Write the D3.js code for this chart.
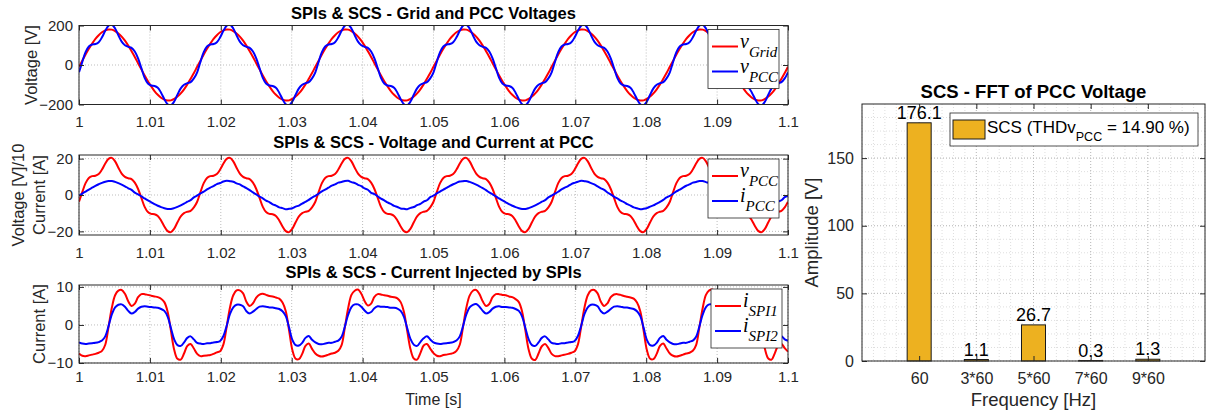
<!DOCTYPE html>
<html>
<head>
<meta charset="utf-8">
<script src="https://cdn.jsdelivr.net/npm/d3@7"></script>
<style>
  body { margin: 0; background: #fff; }
  svg text { font-family: "Liberation Sans", Arial, Helvetica, sans-serif; }
</style>
</head>
<body>
<svg id="chart" width="1208" height="416"></svg>
<script>
const timeStart = 1;
const timeStep = 1 / 2160;
const timeTicks = [1, 1.01, 1.02, 1.03, 1.04, 1.05, 1.06, 1.07, 1.08, 1.09, 1.1];

const vGrid = [
  -9, 22, 53, 82, 108, 132, 151, 166, 175, 180, 179, 172, 160, 144, 123, 98, 70, 41, 9, -22, -53, -82, -108, -132, -151, -166, -175, -180, -179, -172, -160, -144, -123, -98, -70, -41,
  -9, 22, 53, 82, 108, 132, 151, 166, 175, 180, 179, 172, 160, 144, 123, 98, 70, 41, 9, -22, -53, -82, -108, -132, -151, -166, -175, -180, -179, -172, -160, -144, -123, -98, -70, -41,
  -9, 22, 53, 82, 108, 132, 151, 166, 175, 180, 179, 172, 160, 144, 123, 98, 70, 41, 9, -22, -53, -82, -108, -132, -151, -166, -175, -180, -179, -172, -160, -144, -123, -98, -70, -41,
  -9, 22, 53, 82, 108, 132, 151, 166, 175, 180, 179, 172, 160, 144, 123, 98, 70, 41, 9, -22, -53, -82, -108, -132, -151, -166, -175, -180, -179, -172, -160, -144, -123, -98, -70, -41,
  -9, 22, 53, 82, 108, 132, 151, 166, 175, 180, 179, 172, 160, 144, 123, 98, 70, 41, 9, -22, -53, -82, -108, -132, -151, -166, -175, -180, -179, -172, -160, -144, -123, -98, -70, -41,
  -9, 22, 53, 82, 108, 132, 151, 166, 175, 180, 179, 172, 160, 144, 123, 98, 70, 41, 9, -22, -53, -82, -108, -132, -151, -166, -175, -180, -179, -172, -160, -144, -123, -98, -70, -41,
  -9
];

const vPcc = [
  -37, 16, 65, 94, 104, 106, 115, 140, 173, 199, 204, 185, 150, 118, 100, 92, 87, 68, 33, -16, -65, -94, -104, -106, -115, -140, -173, -199, -204, -185, -150, -118, -100, -92, -87, -68,
  -37, 16, 65, 94, 104, 106, 115, 140, 173, 199, 204, 185, 150, 118, 100, 92, 87, 68, 33, -16, -65, -94, -104, -106, -115, -140, -173, -199, -204, -185, -150, -118, -100, -92, -87, -68,
  -37, 16, 65, 94, 104, 106, 115, 140, 173, 199, 204, 185, 150, 118, 100, 92, 87, 68, 33, -16, -65, -94, -104, -106, -115, -140, -173, -199, -204, -185, -150, -118, -100, -92, -87, -68,
  -37, 16, 65, 94, 104, 106, 115, 140, 173, 199, 204, 185, 150, 118, 100, 92, 87, 68, 33, -16, -65, -94, -104, -106, -115, -140, -173, -199, -204, -185, -150, -118, -100, -92, -87, -68,
  -37, 16, 65, 94, 104, 106, 115, 140, 173, 199, 204, 185, 150, 118, 100, 92, 87, 68, 33, -16, -65, -94, -104, -106, -115, -140, -173, -199, -204, -185, -150, -118, -100, -92, -87, -68,
  -37, 16, 65, 94, 104, 106, 115, 140, 173, 199, 204, 185, 150, 118, 100, 92, 87, 68, 33, -16, -65, -94, -104, -106, -115, -140, -173, -199, -204, -185, -150, -118, -100, -92, -87, -68,
  -37
];

const iPcc = [
  -0.4, 0.8, 1.9, 3.0, 4.0, 5.0, 5.9, 6.7, 7.3, 7.7, 7.7, 7.2, 6.5, 5.7, 4.8, 3.7, 2.8, 1.3, 0.4, -0.8, -1.9, -3.0, -4.0, -5.0, -5.9, -6.7, -7.3, -7.7, -7.7, -7.2, -6.5, -5.7, -4.8, -3.7, -2.8, -1.3,
  -0.3, 0.9, 1.8, 3.1, 4.1, 4.9, 6.0, 6.6, 7.4, 7.8, 7.6, 7.3, 6.4, 5.8, 4.7, 3.8, 2.7, 1.4, 0.3, -0.9, -1.8, -3.1, -3.9, -5.1, -5.8, -6.8, -7.2, -7.8, -7.6, -7.3, -6.4, -5.8, -4.7, -3.8, -2.7, -1.4,
  -0.5, 0.7, 2.0, 2.9, 4.0, 5.1, 5.8, 6.8, 7.2, 7.7, 7.8, 7.1, 6.6, 5.6, 4.9, 3.6, 2.9, 1.2, 0.5, -0.7, -2.0, -2.9, -4.1, -4.9, -6.0, -6.6, -7.4, -7.6, -7.8, -7.1, -6.6, -5.6, -4.9, -3.6, -2.9, -1.2,
  -0.4, 0.9, 1.9, 3.0, 3.9, 5.0, 5.9, 6.7, 7.4, 7.6, 7.7, 7.2, 6.5, 5.7, 4.8, 3.8, 2.7, 1.4, 0.4, -0.8, -1.9, -3.0, -4.0, -5.0, -5.9, -6.7, -7.3, -7.7, -7.7, -7.2, -6.5, -5.7, -4.8, -3.7, -2.8, -1.3,
  -0.3, 0.8, 1.8, 3.1, 4.0, 4.9, 6.0, 6.7, 7.3, 7.8, 7.6, 7.3, 6.5, 5.8, 4.7, 3.7, 2.8, 1.4, 0.3, -0.9, -1.9, -3.1, -3.9, -5.0, -5.8, -6.8, -7.3, -7.8, -7.6, -7.2, -6.4, -5.7, -4.7, -3.8, -2.7, -1.3,
  -0.5, 0.7, 2.0, 2.9, 4.1, 5.1, 5.8, 6.8, 7.2, 7.7, 7.7, 7.1, 6.6, 5.6, 4.9, 3.6, 2.8, 1.2, 0.5, -0.7, -2.0, -3.0, -4.1, -4.9, -6.0, -6.6, -7.4, -7.6, -7.7, -7.1, -6.6, -5.6, -4.8, -3.6, -2.9, -1.2,
  -0.4
];

const iSpi1 = [
  -7.5, -8.1, -8.2, -8.0, -7.8, -7.6, -7.3, -6.8, -5.2, -0.5, 4.5, 7.8, 9.0, 9.2, 8.2, 6.2, 5.0, 5.6, 7.3, 8.1, 8.1, 7.9, 7.7, 7.5, 7.3, 6.9, 6.0, 3.5, -1.5, -6.5, -8.9, -9.1, -7.5, -5.5, -5.0, -6.2,
  -7.6, -8.2, -8.1, -8.0, -7.9, -7.6, -7.2, -6.9, -5.1, -0.4, 4.6, 7.8, 9.1, 9.1, 8.3, 6.1, 5.0, 5.7, 7.2, 8.0, 8.2, 7.9, 7.6, 7.5, 7.2, 6.9, 5.9, 3.6, -1.4, -6.6, -8.9, -9.0, -7.6, -5.5, -4.9, -6.3,
  -7.5, -8.1, -8.3, -8.1, -7.8, -7.5, -7.3, -6.8, -5.3, -0.6, 4.4, 7.9, 9.0, 9.3, 8.2, 6.3, 5.1, 5.6, 7.4, 8.1, 8.0, 7.8, 7.7, 7.4, 7.3, 7.0, 6.0, 3.4, -1.6, -6.4, -8.8, -9.1, -7.4, -5.4, -5.0, -6.2,
  -7.4, -8.1, -8.2, -7.9, -7.8, -7.6, -7.4, -6.8, -5.2, -0.5, 4.5, 7.7, 9.0, 9.2, 8.1, 6.2, 5.0, 5.5, 7.3, 8.1, 8.1, 7.9, 7.8, 7.5, 7.3, 6.8, 6.0, 3.5, -1.5, -6.5, -8.9, -9.2, -7.5, -5.6, -5.0, -6.1,
  -7.6, -8.2, -8.2, -8.0, -7.8, -7.6, -7.3, -6.9, -5.1, -0.4, 4.6, 7.8, 9.1, 9.2, 8.3, 6.1, 5.0, 5.7, 7.3, 8.0, 8.1, 7.9, 7.6, 7.4, 7.2, 6.9, 5.9, 3.6, -1.4, -6.6, -8.9, -9.0, -7.6, -5.5, -4.9, -6.2,
  -7.5, -8.1, -8.3, -8.1, -7.8, -7.5, -7.3, -6.8, -5.3, -0.6, 4.4, 7.9, 9.1, 9.3, 8.2, 6.3, 5.1, 5.6, 7.4, 8.1, 8.0, 7.8, 7.7, 7.4, 7.3, 7.0, 6.0, 3.4, -1.6, -6.4, -8.8, -9.1, -7.4, -5.4, -5.0, -6.1,
  -7.0
];

const iSpi2 = [
  -4.6, -4.9, -5.0, -4.9, -4.8, -4.7, -4.5, -4.1, -3.0, -0.3, 2.8, 4.6, 5.3, 5.4, 4.8, 3.7, 3.0, 3.4, 4.3, 4.8, 4.9, 4.8, 4.7, 4.6, 4.5, 4.2, 3.7, 2.2, -0.8, -3.8, -5.3, -5.5, -4.6, -3.4, -3.0, -3.8,
  -4.7, -4.9, -5.0, -4.8, -4.8, -4.6, -4.5, -4.2, -2.9, -0.2, 2.9, 4.6, 5.3, 5.3, 4.9, 3.6, 3.0, 3.5, 4.2, 4.8, 4.9, 4.8, 4.6, 4.6, 4.4, 4.2, 3.6, 2.3, -0.7, -3.9, -5.3, -5.4, -4.7, -3.4, -2.9, -3.9,
  -4.6, -5.0, -5.1, -4.9, -4.7, -4.7, -4.4, -4.1, -3.1, -0.4, 2.7, 4.7, 5.4, 5.4, 4.8, 3.8, 3.1, 3.4, 4.4, 4.9, 4.8, 4.8, 4.7, 4.5, 4.5, 4.3, 3.7, 2.1, -0.9, -3.7, -5.2, -5.5, -4.5, -3.5, -3.0, -3.8,
  -4.6, -4.9, -5.0, -4.9, -4.8, -4.7, -4.5, -4.1, -3.0, -0.3, 2.8, 4.6, 5.3, 5.5, 4.8, 3.7, 3.0, 3.4, 4.3, 4.8, 4.9, 4.7, 4.7, 4.6, 4.5, 4.2, 3.7, 2.2, -0.8, -3.8, -5.3, -5.5, -4.6, -3.4, -3.0, -3.8,
  -4.7, -4.9, -5.0, -4.8, -4.8, -4.6, -4.5, -4.2, -2.9, -0.2, 2.9, 4.6, 5.3, 5.3, 4.9, 3.6, 3.0, 3.5, 4.2, 4.8, 4.9, 4.8, 4.6, 4.6, 4.4, 4.2, 3.6, 2.3, -0.7, -3.9, -5.3, -5.4, -4.7, -3.4, -2.9, -3.9,
  -4.6, -5.0, -5.1, -4.9, -4.7, -4.7, -4.4, -4.1, -3.1, -0.4, 2.7, 4.7, 5.4, 5.4, 4.8, 3.8, 3.1, 3.4, 4.4, 4.9, 4.8, 4.8, 4.7, 4.5, 4.5, 4.3, 3.7, 2.1, -0.9, -3.7, -5.2, -5.5, -4.5, -3.5, -3.0, -3.8,
  -4.2
];

const panelTitles = [
  "SPIs & SCS - Grid and PCC Voltages",
  "SPIs & SCS - Voltage and Current at PCC",
  "SPIs & SCS - Current Injected by SPIs"
];

// harmonic spectrum of the PCC voltage
const fftLabels = ["60", "3*60", "5*60", "7*60", "9*60"];
const fftValues = [176.1, 1.1, 26.7, 0.3, 1.3];
const fftValueLabels = ["176.1", "1.1", "26.7", "0.3", "1.3"];
const fftYTicks = [0, 50, 100, 150];
const thdText = "14.90 %";

// ---- drawing ----
const svg = d3.select("#chart");
const ink = "#262626";
const serif = '"Liberation Serif", "Times New Roman", serif';
const red = "#ff0000", blue = "#0000ff";

const x = d3.scaleLinear([1, 1.1], [79, 788]);
const sampleTime = i => timeStart + i * timeStep;

const panels = [
  {
    top: 25.5, bottom: 104.5, yDomain: [-200, 200], yTicks: [-200, 0, 200], tickGap: 12, legendX: 708,
    ylabel: [["Voltage [V]", 37]],
    series: [
      {values: vGrid, color: red, sym: "v", sub: "Grid"},
      {values: vPcc, color: blue, sym: "v", sub: "PCC"}
    ]
  },
  {
    top: 155, bottom: 235, yDomain: [-22, 22], yTicks: [-20, 0, 20], tickGap: 12, legendX: 708,
    ylabel: [["Voltage [V]/10", 24], ["Current [A]", 45]],
    series: [
      {values: vPcc.map(v => v / 10), color: red, sym: "v", sub: "PCC"},
      {values: iPcc, color: blue, sym: "i", sub: "PCC"}
    ]
  },
  {
    top: 285, bottom: 363, yDomain: [-10, 10.5], yTicks: [-10, 0, 10], tickGap: 8, legendX: 711,
    ylabel: [["Current [A]", 45]],
    series: [
      {values: iSpi1, color: red, sym: "i", sub: "SPI1"},
      {values: iSpi2, color: blue, sym: "i", sub: "SPI2"}
    ]
  }
];

const styleAxis = (g, size) => g
  .attr("font-family", null)
  .attr("font-size", size)
  .call(a => a.select(".domain").remove())
  .call(a => a.selectAll(".tick line").attr("stroke", ink))
  .call(a => a.selectAll(".tick text").attr("fill", ink));

panels.forEach((p, k) => {
  const y = d3.scaleLinear(p.yDomain, [p.bottom, p.top]);
  const g = svg.append("g");
  const [x0, x1] = x.range();

  // grid
  g.append("g").selectAll("line").data(timeTicks).join("line")
    .attr("x1", d => x(d)).attr("x2", d => x(d))
    .attr("y1", p.top).attr("y2", p.bottom)
    .attr("stroke", "#bdbdbd").attr("stroke-dasharray", "1,2");
  g.append("g").selectAll("line").data(p.yTicks).join("line")
    .attr("x1", x0).attr("x2", x1)
    .attr("y1", d => y(d)).attr("y2", d => y(d))
    .attr("stroke", "#bdbdbd").attr("stroke-dasharray", "1,2");

  // signals
  svg.append("clipPath").attr("id", `clip${k}`)
    .append("rect").attr("x", x0).attr("y", p.top).attr("width", x1 - x0).attr("height", p.bottom - p.top);

  const line = d3.line()
    .x((d, i) => x(sampleTime(i)))
    .y(d => y(d))
    .curve(d3.curveCatmullRom.alpha(0.5));

  g.append("g").attr("clip-path", `url(#clip${k})`)
    .selectAll("path").data(p.series).join("path")
    .attr("d", s => line(s.values))
    .attr("fill", "none")
    .attr("stroke", s => s.color)
    .attr("stroke-width", 2)
    .attr("stroke-linejoin", "round");

  // axes, ticks pointing inside
  g.append("g").attr("transform", `translate(0,${p.bottom})`)
    .call(d3.axisBottom(x).tickValues(timeTicks).tickFormat(d3.format(".2~f")).tickSize(-5).tickPadding(p.tickGap))
    .call(styleAxis, 15);
  g.append("g").attr("transform", `translate(0,${p.top})`)
    .call(d3.axisTop(x).tickValues(timeTicks).tickFormat("").tickSize(-5))
    .call(styleAxis, 15);
  g.append("g").attr("transform", `translate(${x0},0)`)
    .call(d3.axisLeft(y).tickValues(p.yTicks).tickFormat(d3.format("d")).tickSize(-5).tickPadding(6))
    .call(styleAxis, 15);
  g.append("g").attr("transform", `translate(${x1},0)`)
    .call(d3.axisRight(y).tickValues(p.yTicks).tickFormat("").tickSize(-5))
    .call(styleAxis, 15);

  g.append("rect")
    .attr("x", x0).attr("y", p.top).attr("width", x1 - x0).attr("height", p.bottom - p.top)
    .attr("fill", "none").attr("stroke", ink).attr("stroke-width", 1);

  // title and y label
  g.append("text")
    .attr("x", (x0 + x1) / 2).attr("y", p.top - 7)
    .attr("text-anchor", "middle").attr("font-size", 16.5).attr("font-weight", "bold")
    .text(panelTitles[k]);

  p.ylabel.forEach(([label, lx]) => {
    g.append("text")
      .attr("transform", `translate(${lx},${(p.top + p.bottom) / 2}) rotate(-90)`)
      .attr("text-anchor", "middle").attr("font-size", 16.5).attr("fill", ink)
      .text(label);
  });

  // legend
  const lg = g.append("g").attr("transform", `translate(${p.legendX},${p.top + 4})`);
  lg.append("rect").attr("width", 71).attr("height", 59)
    .attr("fill", "#fff").attr("stroke", ink).attr("stroke-width", 0.8);
  p.series.forEach((s, j) => {
    const ly = 17 + j * 25;
    lg.append("line").attr("x1", 4).attr("x2", 30).attr("y1", ly).attr("y2", ly)
      .attr("stroke", s.color).attr("stroke-width", 2);
    const t = lg.append("text").attr("x", 32).attr("y", ly + 1)
      .style("font-family", serif).style("font-style", "italic").attr("fill", "#000");
    t.append("tspan").attr("font-size", 20).text(s.sym);
    t.append("tspan").attr("font-size", 15).attr("dy", 9).text(s.sub);
  });
});

svg.append("text")
  .attr("x", 433.5).attr("y", 405)
  .attr("text-anchor", "middle").attr("font-size", 16).attr("fill", ink)
  .text("Time [s]");

// ---- FFT bar chart ----
const xb = d3.scaleLinear([0, 6], [862, 1205]);
const yb = d3.scaleLinear([0, 190], [361, 104]);
const barPos = fftLabels.map((_, i) => i + 1);
const barHalf = 0.21;
const fg = svg.append("g");

// minor grid
fg.append("g").selectAll("line").data(d3.range(0, 6.001, 0.2)).join("line")
  .attr("x1", d => xb(d)).attr("x2", d => xb(d)).attr("y1", yb(190)).attr("y2", yb(0))
  .attr("stroke", "#dedede").attr("stroke-dasharray", "1,2");
fg.append("g").selectAll("line").data(d3.range(10, 190, 10)).join("line")
  .attr("x1", xb(0)).attr("x2", xb(6)).attr("y1", d => yb(d)).attr("y2", d => yb(d))
  .attr("stroke", "#dedede").attr("stroke-dasharray", "1,2");
// major grid
fg.append("g").selectAll("line").data(barPos).join("line")
  .attr("x1", d => xb(d)).attr("x2", d => xb(d)).attr("y1", yb(190)).attr("y2", yb(0))
  .attr("stroke", "#bdbdbd").attr("stroke-dasharray", "1,2");
fg.append("g").selectAll("line").data(fftYTicks).join("line")
  .attr("x1", xb(0)).attr("x2", xb(6)).attr("y1", d => yb(d)).attr("y2", d => yb(d))
  .attr("stroke", "#bdbdbd").attr("stroke-dasharray", "1,2");

fg.append("g").selectAll("rect").data(fftValues).join("rect")
  .attr("x", (d, i) => xb(barPos[i] - barHalf))
  .attr("width", xb(barHalf * 2) - xb(0))
  .attr("y", d => yb(d))
  .attr("height", d => yb(0) - yb(d))
  .attr("fill", "#edb120").attr("stroke", "#1a1a1a").attr("stroke-width", 1);

fg.append("g").selectAll("text").data(fftValues).join("text")
  .attr("x", (d, i) => xb(barPos[i]))
  .attr("y", d => yb(d) - 4)
  .attr("text-anchor", "middle").attr("font-size", 18).attr("fill", "#000")
  .text((d, i) => fftValueLabels[i]);

fg.append("g").attr("transform", `translate(0,${yb(0)})`)
  .call(d3.axisBottom(xb).tickValues(barPos).tickFormat((d, i) => fftLabels[i]).tickSize(-5).tickPadding(12))
  .call(styleAxis, 16);
fg.append("g").attr("transform", `translate(0,${yb(190)})`)
  .call(d3.axisTop(xb).tickValues(barPos).tickFormat("").tickSize(-5))
  .call(styleAxis, 16);
fg.append("g").attr("transform", `translate(${xb(0)},0)`)
  .call(d3.axisLeft(yb).tickValues(fftYTicks).tickSize(-5).tickPadding(8))
  .call(styleAxis, 16);
fg.append("g").attr("transform", `translate(${xb(6)},0)`)
  .call(d3.axisRight(yb).tickValues(fftYTicks).tickFormat("").tickSize(-5))
  .call(styleAxis, 16);

fg.append("rect")
  .attr("x", xb(0)).attr("y", yb(190)).attr("width", xb(6) - xb(0)).attr("height", yb(0) - yb(190))
  .attr("fill", "none").attr("stroke", ink).attr("stroke-width", 1);

fg.append("text")
  .attr("x", (xb(0) + xb(6)) / 2).attr("y", 98)
  .attr("text-anchor", "middle").attr("font-size", 18.5).attr("font-weight", "bold")
  .text("SCS - FFT of PCC Voltage");
fg.append("text")
  .attr("x", (xb(0) + xb(6)) / 2).attr("y", 406)
  .attr("text-anchor", "middle").attr("font-size", 18.5).attr("fill", ink)
  .text("Frequency [Hz]");
fg.append("text")
  .attr("transform", `translate(818,${(yb(0) + yb(190)) / 2}) rotate(-90)`)
  .attr("text-anchor", "middle").attr("font-size", 18.5).attr("fill", ink)
  .text("Amplitude [V]");

// legend
const fl = fg.append("g").attr("transform", "translate(950,113)");
fl.append("rect").attr("width", 248).attr("height", 33)
  .attr("fill", "#fff").attr("stroke", ink).attr("stroke-width", 0.8);
fl.append("rect").attr("x", 3).attr("y", 7).attr("width", 32).attr("height", 19)
  .attr("fill", "#edb120").attr("stroke", "#1a1a1a").attr("stroke-width", 1);
const ft = fl.append("text").attr("x", 37).attr("y", 20).attr("font-size", 17).attr("fill", "#000");
ft.append("tspan").text("SCS (THDv");
ft.append("tspan").attr("font-size", 12.5).attr("dy", 8).text("PCC");
ft.append("tspan").attr("dy", -8).text(` = ${thdText})`);
</script>
</body>
</html>
